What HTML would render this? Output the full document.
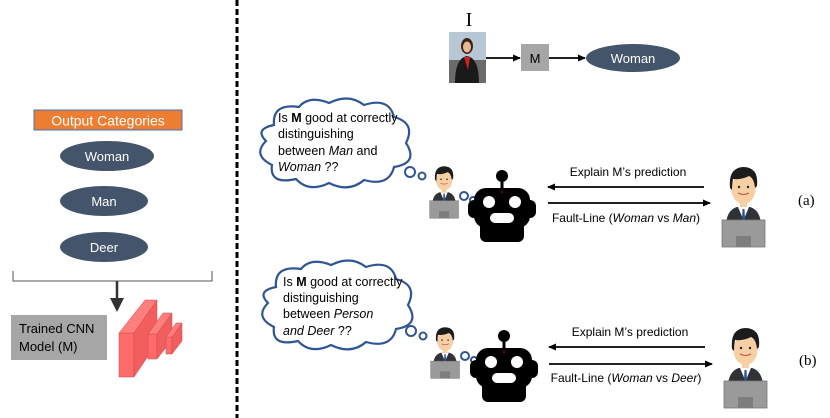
<!DOCTYPE html>
<html><head><meta charset="utf-8"><style>
html,body{margin:0;padding:0;background:#fff;}
svg{display:block;font-family:"Liberation Sans",sans-serif;}
</style></head><body>
<svg width="830" height="418" viewBox="0 0 830 418" xmlns="http://www.w3.org/2000/svg">
<defs>
<marker id="ah" markerWidth="8" markerHeight="8" refX="7" refY="4" orient="auto" markerUnits="userSpaceOnUse"><path d="M0,0.5 L8,4 L0,7.5 Z" fill="#000"/></marker>
<g id="person">
  <!-- suit -->
  <path d="M5,62 Q6,48 16,45 L29,45 Q39,48 40,62 Z" fill="#2f3337"/>
  <path d="M17,45 L22.5,58 L28,45 Z" fill="#fff"/>
  <path d="M21.5,47 L23.5,47 L24,58 L22.5,60 L21,58 Z" fill="#2a4f9a"/>
  <!-- face -->
  <ellipse cx="22.5" cy="27" rx="12" ry="15" fill="#f6cfa4"/>
  <rect x="19" y="38" width="7" height="7" fill="#f6cfa4"/>
  <!-- hair -->
  <path d="M9,26 Q7,6 22,5 Q38,5 36,24 L34,26 Q33,16 28,14 Q20,18 12,17 Q11,22 11,28 Z" fill="#1c1c1c"/>
  <path d="M17,31 Q22.5,34 28,31" stroke="#b5553b" stroke-width="1" fill="none"/>
  <circle cx="18" cy="25" r="1.2" fill="#222"/><circle cx="27" cy="25" r="1.2" fill="#222"/>
  <!-- laptop -->
  <rect x="1" y="58" width="43" height="27" fill="#9a9a9a" stroke="#777" stroke-width="0.8"/>
  <rect x="15" y="74" width="15" height="11" fill="#7d7d7d"/>
</g>
<g id="robot">
  <circle cx="34" cy="6" r="6" fill="#000"/>
  <rect x="32.5" y="8" width="3" height="12" fill="#000"/>
  <rect x="6" y="18" width="56" height="40" rx="12" fill="#000"/>
  <rect x="0" y="30" width="68" height="18" rx="6" fill="#000"/>
  <rect x="12" y="50" width="44" height="22" rx="6" fill="#000"/>
  <circle cx="21" cy="32" r="6" fill="#fff"/>
  <circle cx="47" cy="32" r="6" fill="#fff"/>
  <rect x="22" y="43" width="24" height="10" rx="5" fill="#fff"/>
  <circle cx="34" cy="22" r="0.9" fill="#c00"/>
</g>
<path id="cloud" d="M20,30 Q18,8 45,12 Q55,0 75,8 Q95,-2 110,10 Q135,2 140,22 Q162,28 152,48 Q165,68 140,72 Q135,92 110,85 Q95,98 75,88 Q55,98 42,84 Q15,90 18,70 Q-2,60 12,46 Q0,34 20,30 Z" fill="#fff" stroke="#2f5597" stroke-width="2.2"/>
</defs>

<!-- left panel -->
<rect x="34" y="110" width="148" height="20" fill="#ed7d31" stroke="#4472c4" stroke-width="1"/>
<text x="108" y="125.5" font-size="14" fill="#fff" text-anchor="middle">Output Categories</text>
<ellipse cx="107" cy="156" rx="47" ry="15" fill="#44546a"/>
<text x="107" y="161" font-size="13" fill="#fff" text-anchor="middle">Woman</text>
<ellipse cx="104" cy="201" rx="44" ry="15" fill="#44546a"/>
<text x="104" y="206" font-size="13" fill="#fff" text-anchor="middle">Man</text>
<ellipse cx="104" cy="247" rx="44" ry="15" fill="#44546a"/>
<text x="104" y="252" font-size="13" fill="#fff" text-anchor="middle">Deer</text>
<path d="M13,271 L13,281 L212,281 L212,271" fill="none" stroke="#555" stroke-width="1"/>
<line x1="117" y1="281" x2="117" y2="300" stroke="#333" stroke-width="2.5"/>
<path d="M110,298 L124,298 L117,312 Z" fill="#333"/>
<rect x="11" y="315" width="96" height="45" fill="#a6a6a6"/>
<text x="19" y="333" font-size="13" fill="#000">Trained CNN</text>
<text x="19" y="351" font-size="13" fill="#000">Model (M)</text>
<!-- CNN blocks -->
<g fill="#ff6b6b" stroke="#c94a4a" stroke-width="0.5">
  <path d="M119,333 L134,333 L134,377 L119,377 Z"/>
  <path d="M119,333 L145,300 L157,300 L134,333 Z" fill="#ff7f7f"/>
  <path d="M134,333 L157,300 L157,343 L134,377 Z" fill="#f25e5e"/>
  <path d="M148,334 L157,334 L157,359 L148,359 Z"/>
  <path d="M157,334 L172,313 L172,340 L157,359 Z" fill="#f25e5e"/>
  <path d="M148,334 L163,313 L172,313 L157,334 Z" fill="#ff7f7f"/>
  <path d="M166,337 L172,337 L172,354 L166,354 Z"/>
  <path d="M172,337 L182,323 L182,341 L172,354 Z" fill="#f25e5e"/>
  <path d="M166,337 L176,323 L182,323 L172,337 Z" fill="#ff7f7f"/>
</g>

<!-- divider -->
<line x1="237" y1="0" x2="237" y2="418" stroke="#000" stroke-width="3" stroke-dasharray="6,3"/>

<!-- top pipeline -->
<text x="469" y="26" font-size="20" font-family="Liberation Serif,serif" text-anchor="middle">I</text>
<rect x="449" y="32" width="37" height="51" fill="#b8c7d6"/>
<rect x="449" y="60" width="37" height="23" fill="#6b6b6b"/>
<ellipse cx="467" cy="46" rx="6" ry="8" fill="#3a2418"/>
<ellipse cx="467" cy="47" rx="4" ry="5.5" fill="#e8b894"/>
<path d="M455,83 Q455,58 467,56 Q479,58 479,83 Z" fill="#1a1a1a"/>
<path d="M464,57 L470,57 L468,70 Z" fill="#d81e1e"/>
<line x1="486" y1="58" x2="520" y2="58" stroke="#000" stroke-width="1.8" marker-end="url(#ah)"/>
<rect x="521" y="44" width="28" height="27" fill="#a6a6a6"/>
<text x="535" y="63" font-size="13" text-anchor="middle">M</text>
<line x1="549" y1="58" x2="585" y2="58" stroke="#000" stroke-width="1.8" marker-end="url(#ah)"/>
<ellipse cx="633" cy="58" rx="47" ry="14" fill="#44546a"/>
<text x="633" y="63" font-size="13" fill="#fff" text-anchor="middle">Woman</text>

<!-- row a -->
<use href="#cloud" transform="translate(254,95)"/>
<g font-size="12.5" fill="#000">
<text x="278" y="122">Is <tspan font-weight="bold">M</tspan> good at correctly</text>
<text x="278" y="138">distinguishing</text>
<text x="278" y="155">between <tspan font-style="italic">Man</tspan> and</text>
<text x="278" y="171"><tspan font-style="italic">Woman</tspan> ??</text>
</g>
<circle cx="410" cy="172" r="5" fill="#fff" stroke="#2f5597" stroke-width="2"/>
<circle cx="422" cy="176" r="3.5" fill="#fff" stroke="#2f5597" stroke-width="2"/>
<use href="#person" transform="translate(429,163) scale(0.67,0.65)"/>
<circle cx="464" cy="196" r="4" fill="#fff" stroke="#2f5597" stroke-width="2"/>
<circle cx="473" cy="200" r="3" fill="#fff" stroke="#2f5597" stroke-width="2"/>
<use href="#robot" transform="translate(468,170)"/>
<line x1="704" y1="187" x2="548" y2="187" stroke="#000" stroke-width="1.8" marker-end="url(#ah)"/>
<line x1="548" y1="203" x2="710" y2="203" stroke="#000" stroke-width="1.8" marker-end="url(#ah)"/>
<text x="628" y="176" font-size="12" text-anchor="middle">Explain M’s prediction</text>
<text x="626" y="222" font-size="12" text-anchor="middle">Fault-Line (<tspan font-style="italic">Woman</tspan> vs <tspan font-style="italic">Man</tspan>)</text>
<use href="#person" transform="translate(721,162)"/>
<text x="798" y="205" font-size="15" font-family="Liberation Serif,serif">(a)</text>

<!-- row b -->
<use href="#cloud" transform="translate(256,257)"/>
<g font-size="12.5" fill="#000">
<text x="283" y="286">Is <tspan font-weight="bold">M</tspan> good at correctly</text>
<text x="283" y="302">distinguishing</text>
<text x="283" y="318">between <tspan font-style="italic">Person</tspan></text>
<text x="283" y="335"><tspan font-style="italic">and Deer</tspan> ??</text>
</g>
<circle cx="411" cy="331" r="5" fill="#fff" stroke="#2f5597" stroke-width="2"/>
<circle cx="423" cy="336" r="3.5" fill="#fff" stroke="#2f5597" stroke-width="2"/>
<use href="#person" transform="translate(430,324) scale(0.67,0.64)"/>
<circle cx="465" cy="356" r="4" fill="#fff" stroke="#2f5597" stroke-width="2"/>
<circle cx="474" cy="360" r="3" fill="#fff" stroke="#2f5597" stroke-width="2"/>
<use href="#robot" transform="translate(470,330)"/>
<line x1="705" y1="347" x2="549" y2="347" stroke="#000" stroke-width="1.8" marker-end="url(#ah)"/>
<line x1="549" y1="364" x2="712" y2="364" stroke="#000" stroke-width="1.8" marker-end="url(#ah)"/>
<text x="630" y="336" font-size="12" text-anchor="middle">Explain M’s prediction</text>
<text x="626" y="382" font-size="12" text-anchor="middle">Fault-Line (<tspan font-style="italic">Woman</tspan> vs <tspan font-style="italic">Deer</tspan>)</text>
<use href="#person" transform="translate(723,323)"/>
<text x="799" y="365" font-size="15" font-family="Liberation Serif,serif">(b)</text>
</svg>
</body></html>
